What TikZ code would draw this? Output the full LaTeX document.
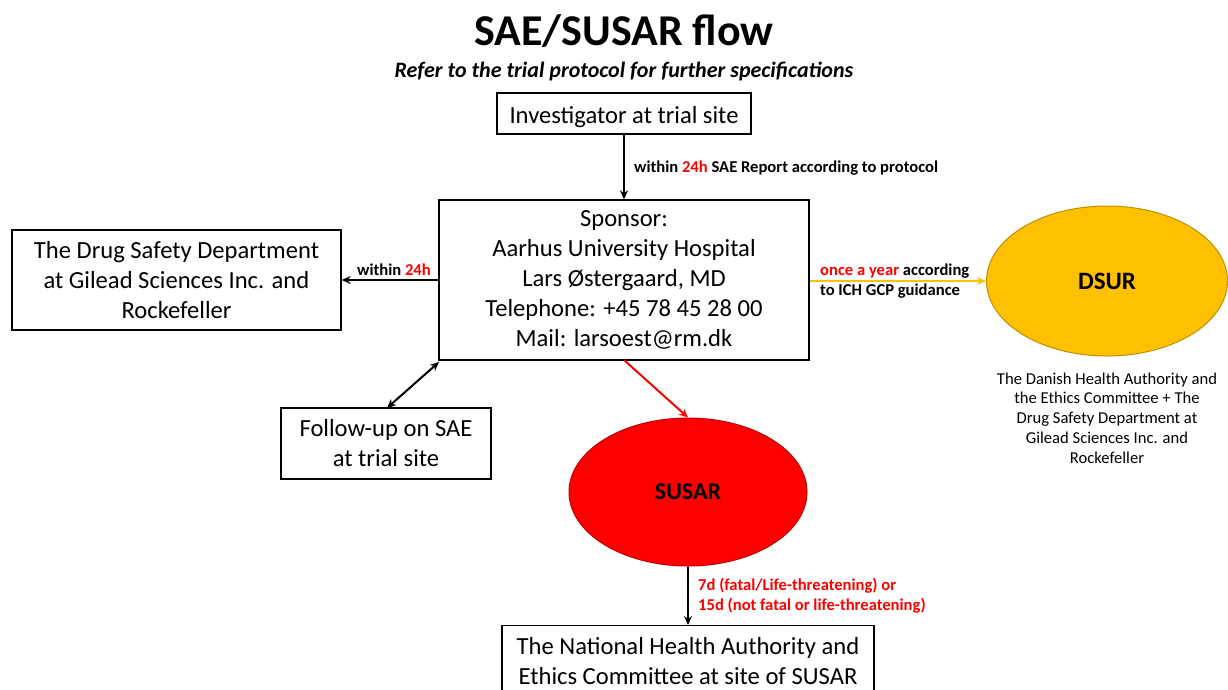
\documentclass[tikz,border=0pt]{standalone}
\usepackage{fontspec}
\setmainfont{Carlito}
\usetikzlibrary{arrows.meta,shapes.geometric}
\definecolor{dsurfill}{HTML}{FFC000}
\definecolor{dsurline}{HTML}{BF9000}
\definecolor{susred}{HTML}{FF0000}
\definecolor{susline}{HTML}{C00000}
\tikzset{
  box/.style={draw=black, line width=1.3pt, fill=white, align=center, inner sep=0pt},
  boxtext/.style={font=\fontsize{24.6}{30}\selectfont, execute at begin node={\rule{0pt}{24pt}}},
  lbl/.style={font=\fontsize{16.6}{20}\selectfont\bfseries, align=left, anchor=west, inner sep=0pt},
  arr/.style={line width=2pt, -{Stealth[length=9pt,width=8pt]}},
}
\begin{document}
\begin{tikzpicture}[x=1pt,y=-1pt]
\useasboundingbox (0,0) rectangle (1228,689);
\clip (0,0) rectangle (1228,689);
% title
\node[font=\fontsize{44}{50}\selectfont\bfseries] (title) at (624,31) {SAE/SUSAR flow};
\node[font=\fontsize{22}{26}\selectfont\bfseries\itshape] (sub) at (624,71) {Refer to the trial protocol for further specifications};
% boxes
\node[box, boxtext, minimum width=254pt, minimum height=41pt] (inv) at (624,113.5) {Investigator at trial site};
\node[box, boxtext, minimum width=370pt, minimum height=160pt] (sp) at (624,280) {Sponsor:\\Aarhus University Hospital\\Lars Østergaard, MD\\Telephone: +45 78 45 28 00\\Mail: larsoest@rm.dk};
\node[box, boxtext, minimum width=329pt, minimum height=100pt] (ds) at (176.5,280) {The Drug Safety Department\\at Gilead Sciences Inc. and\\Rockefeller};
\node[box, boxtext, minimum width=210pt, minimum height=71pt] (fu) at (386,443.5) {Follow-up on SAE\\at trial site};
\node[box, minimum width=372pt, minimum height=90pt, anchor=north] (nat) at (688,625) {};
\node[boxtext, align=center] (nattxt) at (688,661) {The National Health Authority and\\Ethics Committee at site of SUSAR};
% ellipses
\node[ellipse, draw=susline, line width=1pt, fill=susred, minimum width=238pt, minimum height=148pt, font=\fontsize{24}{28}\selectfont\bfseries] (susar) at (688,492) {SUSAR};
\node[ellipse, draw=dsurline, line width=1pt, fill=dsurfill, minimum width=241pt, minimum height=150pt, font=\fontsize{25}{28}\selectfont\bfseries] (dsur) at (1107,281) {DSUR};
\node[font=\fontsize{16.6}{19.8}\selectfont, align=center] (dsurtxt) at (1107,418) {The Danish Health Authority and\\the Ethics Committee + The\\Drug Safety Department at\\Gilead Sciences Inc. and\\Rockefeller};
% arrows
\draw[arr] (inv.south) -- (inv.south |- sp.north);
\node[lbl] (l1) at (634,168) {within \textcolor{susred}{24h} SAE Report according to protocol};
\draw[arr] (sp.west |- ds.east) -- (ds.east);
\node[lbl] (l2) at (357,270) {within \textcolor{susred}{24h}};
\draw[arr, draw=dsurfill, color=dsurfill, line width=1.6pt] (sp.east |- dsur.west) -- (dsur.west);
\node[lbl] (l3) at (820,281) {\textcolor{susred}{once a year} according\\to ICH GCP guidance};
\coordinate (fuA) at (387,408);
\coordinate (spA) at (439,362);
\draw[line width=2pt, {Stealth[length=9pt,width=8pt]}-{Stealth[length=9pt,width=8pt]}] (fuA) -- (spA);
\coordinate (spB) at (624,360);
\draw[arr, draw=susred, color=susred] (spB) -- (susar.north);
\draw[arr] (susar.south) -- (nat.north);
\node[lbl, text=susred] (l4) at (698,596) {7d (fatal/Life-threatening) or\\15d (not fatal or life-threatening)};
\end{tikzpicture}
\end{document}
